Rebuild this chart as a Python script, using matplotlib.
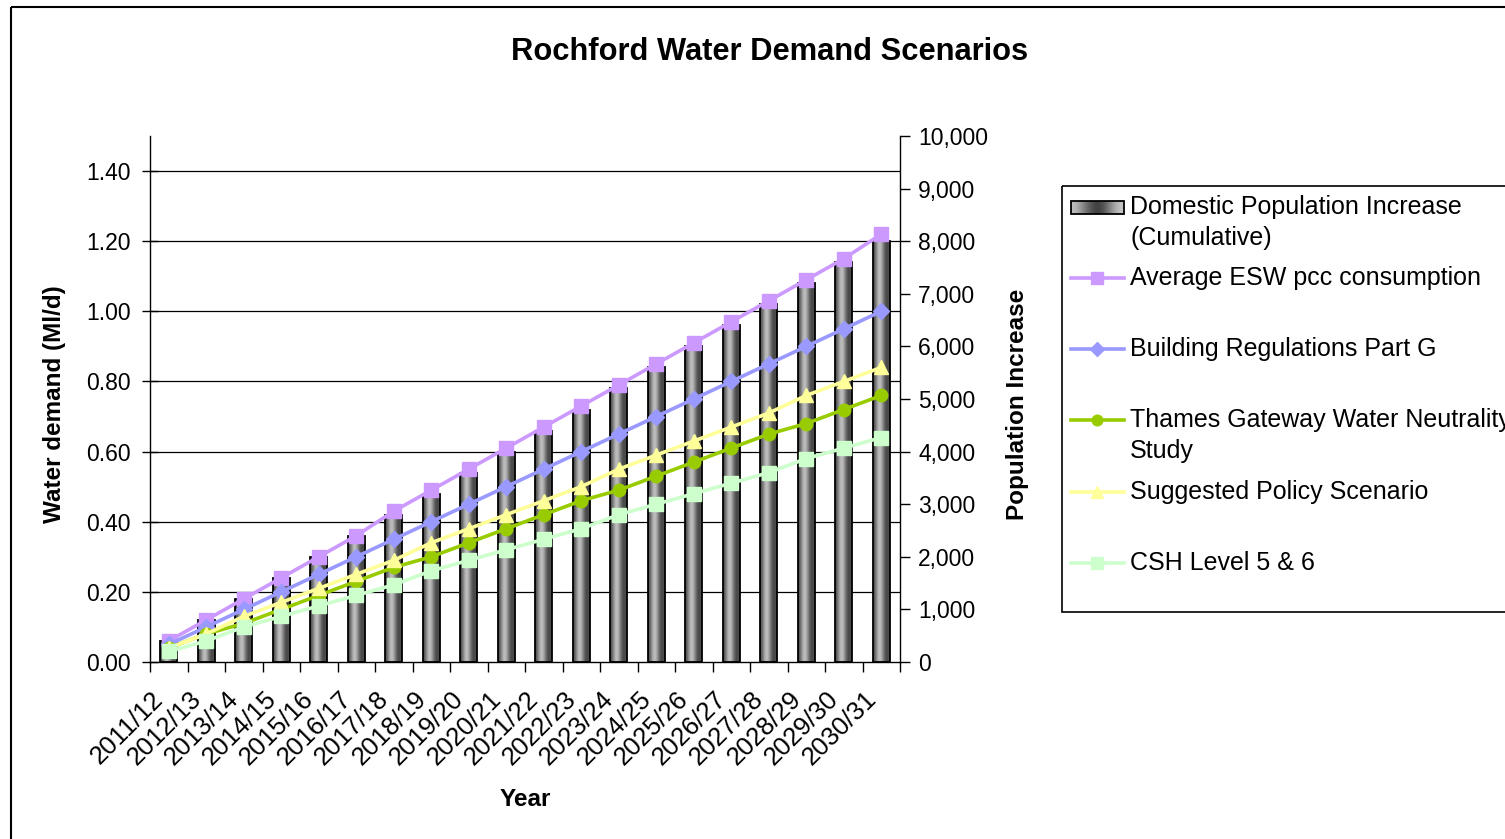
import numpy as np
import matplotlib
matplotlib.use("Agg")
import matplotlib.pyplot as plt
from matplotlib.patches import Rectangle
from matplotlib.lines import Line2D
from matplotlib.ticker import FuncFormatter, FormatStrFormatter
from matplotlib.transforms import blended_transform_factory, ScaledTranslation

plt.rcParams['font.family'] = ['Liberation Sans', 'DejaVu Sans']

years = ['2011/12', '2012/13', '2013/14', '2014/15', '2015/16', '2016/17', '2017/18',
         '2018/19', '2019/20', '2020/21', '2021/22', '2022/23', '2023/24', '2024/25',
         '2025/26', '2026/27', '2027/28', '2028/29', '2029/30', '2030/31']

# cumulative domestic population increase (right axis)
population = [400, 800, 1200, 1600, 2000, 2400, 2800, 3200, 3600, 4000,
              4400, 4800, 5200, 5600, 6000, 6400, 6800, 7200, 7600, 8000]

# water demand scenarios, Ml/d (left axis)
esw_avg = [0.06, 0.12, 0.18, 0.24, 0.30, 0.36, 0.43, 0.49, 0.55, 0.61,
           0.67, 0.73, 0.79, 0.85, 0.91, 0.97, 1.03, 1.09, 1.15, 1.22]
part_g = [0.05, 0.10, 0.15, 0.20, 0.25, 0.30, 0.35, 0.40, 0.45, 0.50,
          0.55, 0.60, 0.65, 0.70, 0.75, 0.80, 0.85, 0.90, 0.95, 1.00]
thames = [0.04, 0.08, 0.11, 0.15, 0.19, 0.23, 0.27, 0.30, 0.34, 0.38,
          0.42, 0.46, 0.49, 0.53, 0.57, 0.61, 0.65, 0.68, 0.72, 0.76]
policy = [0.04, 0.08, 0.13, 0.17, 0.21, 0.25, 0.29, 0.34, 0.38, 0.42,
          0.46, 0.50, 0.55, 0.59, 0.63, 0.67, 0.71, 0.76, 0.80, 0.84]
csh56 = [0.03, 0.06, 0.10, 0.13, 0.16, 0.19, 0.22, 0.26, 0.29, 0.32,
         0.35, 0.38, 0.42, 0.45, 0.48, 0.51, 0.54, 0.58, 0.61, 0.64]

series = [
    ('Average ESW pcc consumption', esw_avg, '#CC99FF', 's', 9.5),
    ('Building Regulations Part G', part_g, '#9999FF', 'D', 8),
    ('Thames Gateway Water Neutrality\nStudy', thames, '#99CC00', 'o', 9),
    ('Suggested Policy Scenario', policy, '#FFFF99', '^', 10.5),
    ('CSH Level 5 & 6', csh56, '#CCFFCC', 's', 9.5),
]
bar_label = 'Domestic Population Increase\n(Cumulative)'

W, H = 1505, 839
fig = plt.figure(figsize=(W / 100, H / 100), dpi=100)
ax = fig.add_axes([150 / W, (H - 662) / H, 750 / W, 526 / H])
ax2 = ax.twinx()

x = np.arange(len(years))

# gradient filled bars
shade = np.array([[0.30, 0.50, 0.72, 0.76, 0.58, 0.38, 0.26, 0.32]])
bars = ax2.bar(x, population, width=0.45, facecolor='none', edgecolor='black',
               linewidth=1.3, zorder=3)
for b in bars:
    x0, w, h = b.get_x(), b.get_width(), b.get_height()
    im = ax2.imshow(shade, extent=[x0, x0 + w, 0, h], aspect='auto', cmap='gray',
                    vmin=0, vmax=1, interpolation='bicubic', zorder=2)
    im.set_clip_path(b)

# horizontal gridlines follow the left axis ticks, kept behind the bars
grid_tr = blended_transform_factory(ax2.transAxes, ax.transData)
for t in np.arange(0.2, 1.41, 0.2):
    ax2.plot([0, 1], [t, t], transform=grid_tr, color='black', lw=0.9, zorder=1)

for name, vals, col, mk, ms in series:
    ax.plot(x, vals, color=col, marker=mk, markersize=ms, lw=2.6, zorder=4,
            clip_on=False)

ax.set_zorder(ax2.get_zorder() + 1)
ax.patch.set_visible(False)

ax.set_xlim(-0.5, len(years) - 0.5)
ax.set_ylim(0, 1.5)
ax2.set_ylim(0, 10000)

ax.set_yticks(np.arange(0, 1.41, 0.2))
ax.yaxis.set_major_formatter(FormatStrFormatter('%.2f'))
ax2.set_yticks(np.arange(0, 10001, 1000))
ax2.yaxis.set_major_formatter(FuncFormatter(lambda v, p: '{:,.0f}'.format(v)))

ax.set_xticks(np.arange(-0.5, len(years), 1))
ax.set_xticklabels([])
ax.set_xticks(x, labels=years, minor=True)

for a in (ax, ax2):
    a.spines['top'].set_visible(False)
    for s in a.spines.values():
        s.set_linewidth(1.0)
ax.spines['right'].set_visible(False)
ax2.spines['left'].set_visible(False)
ax2.spines['bottom'].set_visible(False)

ax.tick_params(axis='y', direction='inout', length=12, width=1, labelsize=16.5, pad=8)
ax2.tick_params(axis='y', direction='out', length=7, width=1, labelsize=16.5, pad=6)
ax.tick_params(axis='x', which='major', direction='out', length=7, width=1)
ax.tick_params(axis='x', which='minor', length=0, labelsize=18.5, pad=24)

shift = ScaledTranslation(-9 / 100, 0, fig.dpi_scale_trans)
for lbl in ax.get_xticklabels(minor=True):
    lbl.set_rotation(45)
    lbl.set_ha('right')
    lbl.set_va('center')
    lbl.set_rotation_mode('anchor')
    lbl.set_transform(lbl.get_transform() + shift)

ax.set_ylabel('Water demand (Ml/d)', fontsize=17.5, fontweight='bold')
ax.yaxis.set_label_coords(-0.112, 0.49)
ax2.set_ylabel('Population Increase', fontsize=17.5, fontweight='bold')
ax2.yaxis.set_label_coords(1.141, 0.49)
ax.set_xlabel('Year', fontsize=17.5, fontweight='bold')
ax.xaxis.set_label_coords(0.5, -0.24)

fig.text(770 / W, 1 - 52 / H, 'Rochford Water Demand Scenarios', fontsize=22.2,
         fontweight='bold', ha='center', va='center')

# overlay in pixel units for chart frame and legend
ov = fig.add_axes([0, 0, 1, 1])
ov.set_xlim(0, W)
ov.set_ylim(H, 0)
ov.axis('off')
ov.add_patch(Rectangle((11, 7), W, H, fill=False, edgecolor='black', lw=1.5))
ov.add_patch(Rectangle((1062, 186), 500, 426, fill=False, edgecolor='black', lw=1.2))

rows = [207, 278, 349, 420, 492, 563]
ov.imshow(np.array([[0.75, 0.55, 0.35, 0.22, 0.35, 0.6, 0.78]]),
          extent=[1071, 1124, 214, 201], aspect='auto', cmap='gray',
          vmin=0, vmax=1, interpolation='bicubic')
ov.add_patch(Rectangle((1071, 201), 53, 13, fill=False, edgecolor='black', lw=1.3))
ov.set_xlim(0, W)
ov.set_ylim(H, 0)

labels = [bar_label] + [s[0] for s in series]
for i, (yy, lab) in enumerate(zip(rows, labels)):
    if i > 0:
        name, vals, col, mk, ms = series[i - 1]
        ov.add_line(Line2D([1071, 1097, 1124], [yy, yy, yy], color=col, lw=2.6,
                           marker=mk, markersize=ms * 0.85, markevery=[1]))
    for j, part in enumerate(lab.split('\n')):
        ov.text(1130, yy + 31 * j, part, fontsize=18, ha='left', va='center')

fig.savefig('out.png', dpi=100)
